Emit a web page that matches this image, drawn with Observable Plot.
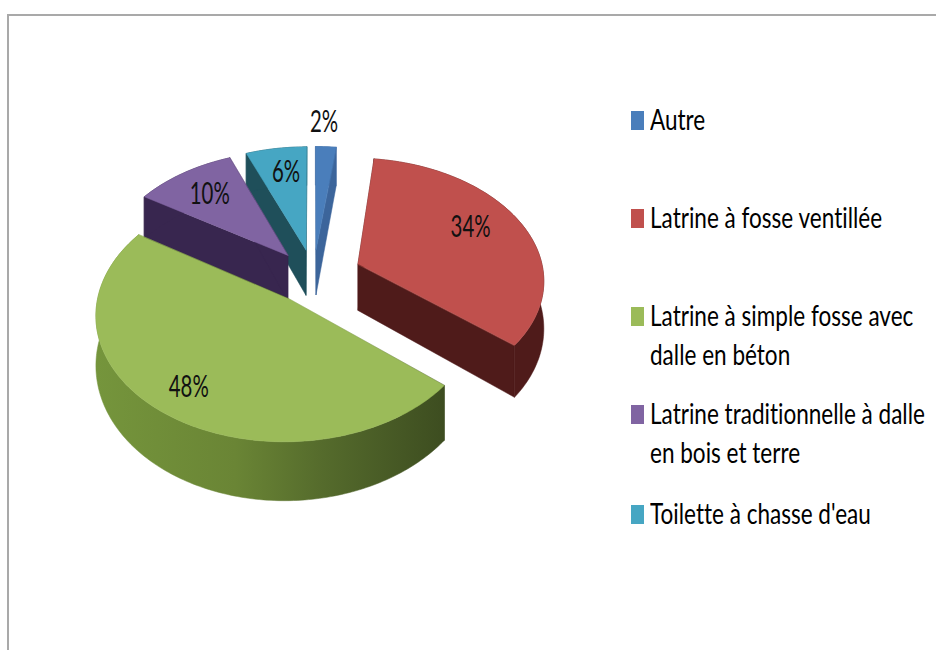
<!DOCTYPE html>
<html lang="fr">
<head>
<meta charset="utf-8">
<title>Types de latrines</title>
<script src="https://cdn.jsdelivr.net/npm/d3@7"></script>
<script src="https://cdn.jsdelivr.net/npm/@observablehq/plot@0.6"></script>
<style>
  html, body { margin: 0; background: #fff; }
  #page { position: relative; width: 936px; height: 650px; overflow: hidden; }
  #frame { position: absolute; left: 7px; top: 14px; right: -4px; bottom: -4px;
           border-top: 2px solid #a9a9a9; border-left: 2px solid #a9a9a9; pointer-events: none; }
  .row { position: absolute; left: 631px; width: 305px; font: 28px/39px Lato, sans-serif; color: #000;
         font-variant-ligatures: none; }
  .row i { position: absolute; left: 0; width: 13px; height: 19px; }
  .row span { display: block; margin-left: 19px; white-space: nowrap; transform-origin: 0 50%; transform: scaleX(0.805); }
</style>
</head>
<body>
<div id="page"><div id="frame"></div></div>
<script>
// Sanitation types, share of households (%)
const categories = ["Autre", "Latrine à fosse ventillée", "Latrine à simple fosse avec dalle en béton",
                    "Latrine traditionnelle à dalle en bois et terre", "Toilette à chasse d'eau"];
const shares = [2, 34, 48, 10, 6];
const legendLines = [["Autre"], ["Latrine à fosse ventillée"], ["Latrine à simple fosse avec", "dalle en béton"],
                     ["Latrine traditionnelle à dalle", "en bois et terre"], ["Toilette à chasse d'eau"]];

// Colours of the top faces and of the darker side walls
const topColors = ["#4a7ebb", "#c0504d", "#9bbb59", "#8064a2", "#46a6c3"];
const wallColors = ["#3c659b", "#4f1b1a", "url(#green-rim)", "#38264f", "#1f4f5a"];
const greenRimStops = [[0, "#75953c"], [0.4, "#6a8535"], [0.65, "#556b2c"], [1, "#3d4d20"]];

// Pie geometry, in units of the pie radius
const explode = [0.22, 0.26, 0.23, 0.22, 0.22];
const labelRadius = [1.27, 0.72, 0.80, 0.73, 0.74];
const labelTurn = [-1.2, -5, 0, 0, 1.3];
const legendTops = [100, 198, 296, 394, 494];
const perspective = 0.1167;
const wallDepth = 0.39;
const drawOrder = [0, 4, 3, 1, 2];

const rad = (d) => d * Math.PI / 180;
const scaleAt = (v) => 1 / (1 - perspective * v);
const project = (u, v, down = 0) => {
  const s = scaleAt(v);
  return {x: u * s, y: v * s + down * wallDepth * Math.pow(s, 1.5)};
};

// Turn the shares into angular spans, clockwise from twelve o'clock
const total = d3.sum(shares);
let running = 0;
const slices = shares.map((value, i) => {
  const a0 = running / total * 360;
  running += value;
  const a1 = running / total * 360;
  const mid = rad((a0 + a1) / 2);
  return {i, value, a0, a1, mid, tipU: Math.sin(mid) * explode[i], tipV: -Math.cos(mid) * explode[i]};
});

const rim = (s, a) => [s.tipU + Math.sin(rad(a)), s.tipV - Math.cos(rad(a))];

// Polygons are painted back to front: walls first, then the top face
const polygons = [];
const addPolygon = (id, color, corners) =>
  corners.forEach(([u, v, down]) => polygons.push({id, color, ...project(u, v, down)}));

for (const k of drawOrder) {
  const s = slices[k];
  const wall = wallColors[k];
  const [su, sv] = [s.tipU, s.tipV];
  const [u0, v0] = rim(s, s.a0);
  const [u1, v1] = rim(s, s.a1);
  addPolygon(`${k}-wall-start`, wall, [[su, sv, 0], [su, sv, 1], [u0, v0, 1], [u0, v0, 0]]);
  addPolygon(`${k}-wall-end`, wall, [[su, sv, 0], [su, sv, 1], [u1, v1, 1], [u1, v1, 0]]);
  const steps = d3.range(Math.ceil(s.a1 - s.a0) + 1).map((n) => s.a0 + (s.a1 - s.a0) * n / Math.ceil(s.a1 - s.a0));
  const arc = steps.map((a) => rim(s, a));
  addPolygon(`${k}-rim`, wall, [...arc.map(([u, v]) => [u, v, 0]), ...arc.slice().reverse().map(([u, v]) => [u, v, 1])]);
  addPolygon(`${k}-top`, topColors[k], [[su, sv, 0], ...arc.map(([u, v]) => [u, v, 0])]);
}

const labels = slices.map((s) => {
  const a = s.mid + rad(labelTurn[s.i]);
  return {
    text: `${s.value}%`,
    ...project(s.tipU + Math.sin(a) * labelRadius[s.i], s.tipV - Math.cos(a) * labelRadius[s.i])
  };
});

// Horizontal shading of the green rim
const rimGradient = () => {
  const ns = "http://www.w3.org/2000/svg";
  const defs = document.createElementNS(ns, "defs");
  const gradient = document.createElementNS(ns, "linearGradient");
  gradient.setAttribute("id", "green-rim");
  greenRimStops.forEach(([offset, color]) => {
    const stop = document.createElementNS(ns, "stop");
    stop.setAttribute("offset", offset);
    stop.setAttribute("stop-color", color);
    gradient.append(stop);
  });
  defs.append(gradient);
  return defs;
};

const chart = Plot.plot({
  width: 936,
  height: 650,
  margin: 0,
  style: {background: "transparent"},
  x: {domain: [-313 / 186, 623 / 186], range: [0, 936], axis: null},
  y: {domain: [-275 / 120.8, 375 / 120.8], range: [0, 650], axis: null},
  color: {type: "identity"},
  marks: [
    rimGradient,
    Plot.line(polygons, {x: "x", y: "y", z: "id", fill: "color", stroke: "color", strokeWidth: 0.5, curve: "linear-closed"}),
    Plot.text(labels, {x: "x", y: "y", text: "text", fontSize: 30, fill: "#111", fontFamily: "Lato, sans-serif"})
  ]
});

// The percentages are set in a condensed cut: squeeze them about their centres
chart.querySelectorAll("text").forEach((node) => {
  node.setAttribute("transform", `${node.getAttribute("transform") || ""} scale(0.68,1)`);
});

const page = document.getElementById("page");
page.prepend(chart);

// Legend rows to the right of the pie
categories.forEach((name, i) => {
  const row = document.createElement("div");
  row.className = "row";
  row.style.top = legendTops[i] + "px";
  const swatch = document.createElement("i");
  swatch.style.background = topColors[i];
  swatch.style.top = "11px";
  row.append(swatch);
  legendLines[i].forEach((line) => {
    const span = document.createElement("span");
    span.textContent = line;
    row.append(span);
  });
  page.append(row);
});
</script>
</body>
</html>
